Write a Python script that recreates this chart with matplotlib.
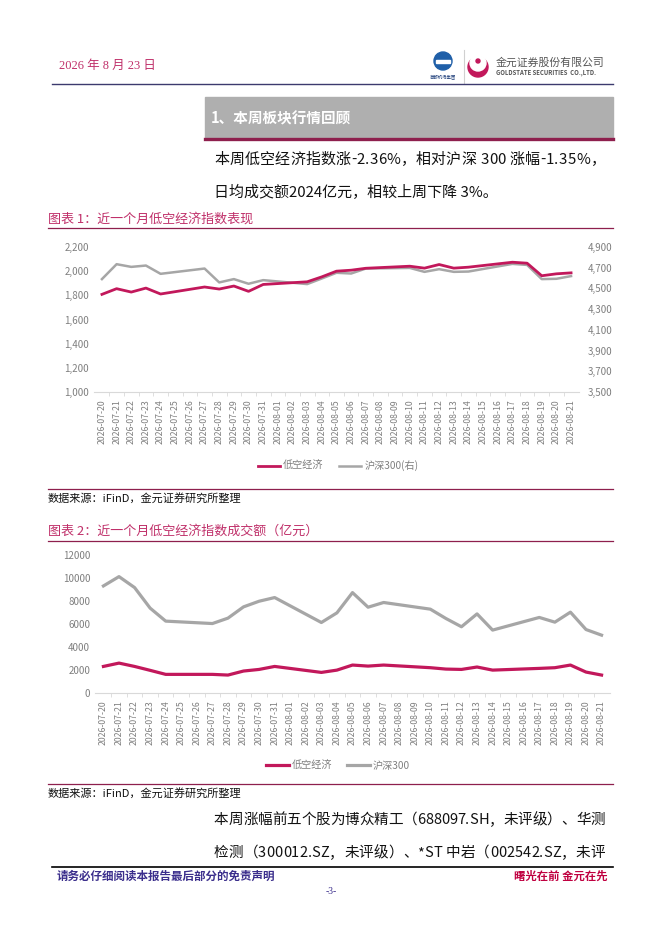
import matplotlib
matplotlib.use("Agg")
import matplotlib.pyplot as plt
import matplotlib.dates as mdates
from matplotlib.patches import Rectangle, Circle
import pandas as pd
import numpy as np

plt.rcParams['font.family'] = ['Noto Sans CJK SC', 'DejaVu Sans']

W, H = 662, 936

# trading days (weekends are bridged by the date axis)
trade_dates = ["2026-07-20", "2026-07-21", "2026-07-22", "2026-07-23", "2026-07-24",
               "2026-07-27", "2026-07-28", "2026-07-29", "2026-07-30", "2026-07-31",
               "2026-08-03", "2026-08-04", "2026-08-05", "2026-08-06", "2026-08-07",
               "2026-08-10", "2026-08-11", "2026-08-12", "2026-08-13", "2026-08-14",
               "2026-08-17", "2026-08-18", "2026-08-19", "2026-08-20", "2026-08-21"]

# chart 1: index levels
lowalt_close = [1808, 1855, 1827, 1860, 1811, 1869, 1852, 1877, 1833, 1890,
                1912, 1953, 2000, 2008, 2024, 2041, 2025, 2055, 2025, 2033,
                2074, 2066, 1962, 1978, 1986]
hs300_close = [4590, 4734, 4708, 4721, 4641, 4692, 4558, 4590, 4545, 4580,
               4542, 4596, 4651, 4644, 4692, 4698, 4660, 4686, 4660, 4663,
               4737, 4727, 4590, 4593, 4619]

# chart 2: turnover (亿元)
lowalt_amount = [2310, 2600, 2310, 1970, 1620, 1620, 1560, 1910, 2050, 2310,
                 1790, 1990, 2430, 2340, 2430, 2200, 2080, 2050, 2260, 1990,
                 2140, 2200, 2430, 1820, 1560]
hs300_amount = [9310, 10120, 9170, 7380, 6250, 6040, 6510, 7490, 7980, 8300,
                6130, 6970, 8730, 7460, 7870, 7290, 6480, 5760, 6880, 5470,
                6570, 6160, 7030, 5520, 5030]

PINK = '#C2185B'
GRAY_LINE = '#A6A6A6'
TICK = '#7F7F7F'
MAROON = '#8E1F4D'
TITLE_PINK = '#C0306A'

dates = pd.to_datetime(trade_dates)
all_days = pd.date_range(dates[0], dates[-1], freq='D')


def fx(x):
    return x / W


def fy(y):
    return 1 - y / H


fig = plt.figure(figsize=(W / 100, H / 100), dpi=100)
renderer = fig.canvas.get_renderer()

# page overlay in pixel coordinates
page = fig.add_axes([0, 0, 1, 1])
page.set_xlim(0, W)
page.set_ylim(H, 0)
page.axis('off')


def justified(text, x0, x1, y, size):
    # place chars one by one, spread evenly between x0 and x1 (like word justify)
    objs = [page.text(0, y, ch, fontsize=size, va='center', color='#111111') for ch in text]
    widths = [o.get_window_extent(renderer).width if ch != ' ' else size * 0.35 for o, ch in zip(objs, text)]
    gap = (x1 - x0 - sum(widths)) / (len(text) - 1)
    x = x0
    for o, w in zip(objs, widths):
        o.set_x(x)
        x += w + gap


# header
page.text(59, 66, "2026 年 8 月 23 日", color=TITLE_PINK, fontsize=9, va='center',
          family=['Liberation Serif', 'Noto Sans CJK SC'])
page.add_patch(Circle((443, 61), 9, color='#1F5FA8'))
page.add_patch(Rectangle((436, 60), 14, 3, color='white'))
page.text(443, 77, "首都机场集团", fontsize=3.2, ha='center', va='center', color='#1F3F7A')
page.plot([464, 464], [50, 83], color='#D0D0D0', lw=0.8)
page.add_patch(Circle((478, 67), 10, color=PINK))
page.add_patch(Circle((478, 63), 8, color='white'))
page.add_patch(Circle((478, 61), 2, color=PINK))
page.text(496, 63, "金元证券股份有限公司", fontsize=7.8, va='center', color='#555555')
page.text(496, 73, "GOLDSTATE SECURITIES  CO.,LTD.", fontsize=4.3, va='center', color='#555555',
          fontweight='bold')
page.plot([52, 613], [84, 84], color='#3C3A6E', lw=1)

# section banner
page.add_patch(Rectangle((205, 97), 408, 41, color='#AFAFAF'))
page.plot([205, 613], [138.5, 138.5], color=MAROON, lw=2.4)
page.text(211, 118, "1、本周板块行情回顾", color='white', fontsize=10.5, fontweight='bold',
          va='center')

justified("本周低空经济指数涨-2.36%，相对沪深 300 涨幅-1.35%，", 214, 605, 160, 10.8)
page.text(214, 192, "日均成交额2024亿元，相较上周下降 3%。", fontsize=10.8,
          va='center', color='#111111')

# chart titles / source lines
page.text(48, 219, "图表 1：近一个月低空经济指数表现", color=TITLE_PINK, fontsize=9.4, va='center')
page.plot([48, 613], [228, 228], color=MAROON, lw=0.9)
page.plot([48, 613], [489, 489], color=MAROON, lw=0.9)
page.text(48, 498, "数据来源：iFinD，金元证券研究所整理", fontsize=8, va='center', color='#111111')

page.text(48, 531, "图表 2：近一个月低空经济指数成交额（亿元）", color=TITLE_PINK, fontsize=9.4,
          va='center')
page.plot([48, 613], [541, 541], color=MAROON, lw=0.9)
page.plot([48, 613], [784, 784], color=MAROON, lw=0.9)
page.text(48, 793, "数据来源：iFinD，金元证券研究所整理", fontsize=8, va='center', color='#111111')

justified("本周涨幅前五个股为博众精工（688097.SH，未评级）、华测", 214, 605, 820, 10.5)
justified("检测（300012.SZ，未评级）、*ST 中岩（002542.SZ，未评", 214, 605, 853, 10.5)

# footer
page.plot([52, 613], [867, 867], color='black', lw=1.2)
page.text(57, 876, "请务必仔细阅读本报告最后部分的免责声明", fontsize=8.3, fontweight='bold',
          color='#3B2E8C', va='center')
page.text(608, 876, "曙光在前 金元在先", fontsize=8.2, fontweight='bold', color='#C00040',
          va='center', ha='right')
page.text(331, 892, "-3-", fontsize=7, color='#3B2E8C', va='center', ha='center',
          family=['Liberation Serif', 'DejaVu Sans'])


def style_date_axis(ax):
    ax.set_xlim(all_days[0] - pd.Timedelta(hours=13), all_days[-1] + pd.Timedelta(hours=13))
    ax.set_xticks(all_days)
    ax.xaxis.set_major_formatter(mdates.DateFormatter('%Y-%m-%d'))
    ax.set_xticks(all_days[:-1] + pd.Timedelta(hours=12), minor=True)
    ax.tick_params(axis='x', which='major', length=0, labelrotation=90, labelsize=6.3,
                   colors=TICK, pad=5)
    ax.tick_params(axis='x', which='minor', length=3, color='#D9D9D9')
    ax.tick_params(axis='y', length=0, labelsize=7, colors=TICK)
    for s in ['top', 'right', 'left']:
        ax.spines[s].set_visible(False)
    ax.spines['bottom'].set_color('#D9D9D9')
    ax.patch.set_alpha(0)


# chart 1
ax1 = fig.add_axes([fx(94), fy(392), fx(579 - 94), 145 / H])
l1, = ax1.plot(dates, lowalt_close, color=PINK, lw=2, label='低空经济', zorder=3)
ax1.set_ylim(1000, 2200)
ax1.set_yticks(np.arange(1000, 2201, 200))
ax1.yaxis.set_major_formatter(matplotlib.ticker.StrMethodFormatter('{x:,.0f}'))
style_date_axis(ax1)

ax1r = ax1.twinx()
l2, = ax1r.plot(dates, hs300_close, color=GRAY_LINE, lw=1.8, label='沪深300(右)', zorder=2)
ax1r.set_ylim(3500, 4900)
ax1r.set_yticks(np.arange(3500, 4901, 200))
ax1r.yaxis.set_major_formatter(matplotlib.ticker.StrMethodFormatter('{x:,.0f}'))
ax1r.tick_params(axis='y', length=0, labelsize=7, colors=TICK, pad=6)
for s in ax1r.spines.values():
    s.set_visible(False)
ax1.set_zorder(ax1r.get_zorder() + 1)

fig.legend(handles=[l1, l2], loc='center', bbox_to_anchor=(fx(338), fy(466)), ncol=2,
           frameon=False, fontsize=7.3, labelcolor=TICK, handlelength=2.2, handletextpad=0.3,
           columnspacing=1.5)

# chart 2
ax2 = fig.add_axes([fx(95), fy(693), fx(610 - 95), 138 / H])
m1, = ax2.plot(dates, lowalt_amount, color=PINK, lw=2.3, label='低空经济', zorder=3)
m2, = ax2.plot(dates, hs300_amount, color=GRAY_LINE, lw=2.3, label='沪深300', zorder=2)
ax2.set_ylim(0, 12000)
ax2.set_yticks(np.arange(0, 12001, 2000))
style_date_axis(ax2)

fig.legend(handles=[m1, m2], loc='center', bbox_to_anchor=(fx(338), fy(766)), ncol=2,
           frameon=False, fontsize=7.3, labelcolor=TICK, handlelength=2.2, handletextpad=0.3,
           columnspacing=1.5)

fig.savefig('out.png', dpi=100)
